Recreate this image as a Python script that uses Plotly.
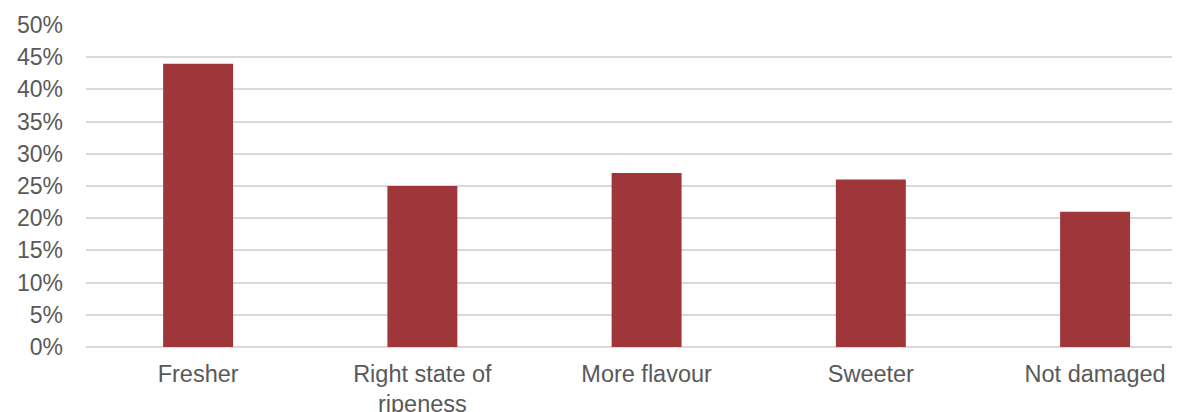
import plotly.graph_objects as go

categories = ["Fresher", "Right state of<br>ripeness", "More flavour", "Sweeter", "Not damaged"]
values = [44, 25, 27, 26, 21]
y_ticks = list(range(0, 51, 5))
y_tick_labels = [f"{v}%" for v in y_ticks]

fig = go.Figure(
    go.Bar(
        x=list(range(len(categories))),
        y=values,
        width=0.312,
        marker=dict(color="#9E363A", line=dict(width=0)),
        hoverinfo="skip",
    )
)

fig.update_layout(
    width=1186,
    height=412,
    margin=dict(l=86, r=14, t=25, b=65),
    paper_bgcolor="white",
    plot_bgcolor="white",
    font=dict(family="Liberation Sans, Arial, sans-serif", size=23, color="#595959"),
    showlegend=False,
    xaxis=dict(
        range=[-0.5, 4.343],
        tickmode="array",
        tickvals=list(range(len(categories))),
        ticktext=categories,
        showgrid=False,
        zeroline=False,
        showline=False,
        ticks="",
        automargin=False,
        ticklabelstandoff=10,
        tickfont=dict(size=23.5, color="#595959"),
    ),
    yaxis=dict(
        range=[0, 50],
        tickmode="array",
        tickvals=y_ticks,
        ticktext=y_tick_labels,
        showgrid=True,
        gridcolor="#D9D9D9",
        gridwidth=1.5,
        zeroline=True,
        zerolinecolor="#D9D9D9",
        zerolinewidth=1.5,
        showline=False,
        ticks="",
        automargin=False,
        ticklabelstandoff=22,
        tickfont=dict(size=23, color="#595959"),
    ),
)

fig.write_html("out.html")
